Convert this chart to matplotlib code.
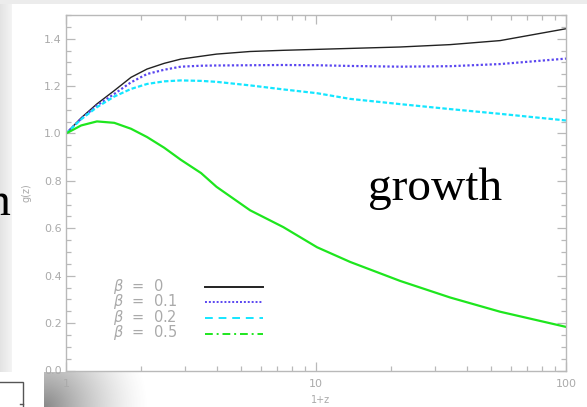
import numpy as np
import matplotlib.pyplot as plt
from matplotlib.patches import Rectangle
from matplotlib.ticker import MultipleLocator, FixedLocator, LogLocator, NullFormatter

# values (x = 1+z, log scale)
one_plus_z = [1.0, 1.15, 1.33, 1.56, 1.82, 2.11, 2.47, 2.88, 3.47, 4.0,
              5.45, 7.4, 10.1, 13.7, 21.7, 34.4, 54.5, 100.0]
g_beta0 = [1.0, 1.066, 1.125, 1.181, 1.237, 1.272, 1.296, 1.314, 1.326, 1.335,
           1.346, 1.351, 1.355, 1.359, 1.365, 1.375, 1.392, 1.442]
g_beta01 = [1.0, 1.062, 1.118, 1.167, 1.216, 1.251, 1.269, 1.282, 1.286, 1.287,
            1.288, 1.289, 1.288, 1.285, 1.282, 1.284, 1.293, 1.316]
g_beta02 = [1.0, 1.06, 1.111, 1.156, 1.188, 1.209, 1.22, 1.224, 1.222, 1.218,
            1.203, 1.186, 1.17, 1.146, 1.124, 1.103, 1.083, 1.055]
g_beta05 = [1.0, 1.034, 1.051, 1.045, 1.02, 0.985, 0.94, 0.889, 0.833, 0.775,
            0.676, 0.605, 0.52, 0.458, 0.378, 0.308, 0.248, 0.184]
beta_labels = ['0', '0.1', '0.2', '0.5']

x_ticks = [1, 10, 100]
x_ticklabels = ['1', '10', '100']

W, H = 587, 407
axcol = '#b9b9b9'
txtcol = '#aaaaaa'

fig = plt.figure(figsize=(W / 100, H / 100), dpi=100)
fig.patch.set_facecolor('white')

# slide background bits (pixel coords)
bg = fig.add_axes([0, 0, 1, 1], zorder=0)
bg.set_xlim(0, W)
bg.set_ylim(H, 0)
bg.axis('off')
bg.add_patch(Rectangle((0, 0), W, 4, color='#ececec', lw=0))
strip = np.linspace(0.89, 0.95, 12)[None, :].repeat(2, axis=0)
bg.imshow(strip, cmap='gray', vmin=0, vmax=1, extent=(0, 12, 372, 0), aspect='auto')
yy, xx = np.mgrid[372:407, 44:200]
d = np.hypot(xx - 44, yy - 407)
alpha = np.clip(1 - d / 105, 0, 1) ** 1.4 * 0.7
shade = np.zeros(xx.shape + (4,))
shade[..., :3] = 0.33
shade[..., 3] = alpha
bg.imshow(shade, extent=(44, 200, 407, 372), aspect='auto', interpolation='bilinear')
bg.add_patch(Rectangle((-5, 382), 28, 30, fill=False, ec='#555555', lw=1))
bg.plot([20, 23], [404, 404], color='#555555', lw=1)
bg.text(10, 215, 'h', ha='right', va='baseline', fontsize=34,
        family='Liberation Serif', color='black')

ax = fig.add_axes([66 / W, (H - 370.5) / H, 500 / W, 355.5 / H], zorder=1)
ax.set_facecolor('white')

colors = ['#222222', '#5a46f0', '#14e6ff', '#1ee61e']
ax.plot(one_plus_z, g_beta0, color=colors[0], lw=1.0)
ax.plot(one_plus_z, g_beta01, color=colors[1], lw=1.6, ls=(0, (1, 1)))
ax.plot(one_plus_z, g_beta02, color=colors[2], lw=1.6, ls=(0, (2, 1)))
ax.plot(one_plus_z, g_beta05, color=colors[3], lw=1.6)

ax.set_xscale('log')
ax.set_xlim(1, 100)
ax.set_ylim(0, 1.5)
ax.xaxis.set_major_locator(FixedLocator(x_ticks))
ax.set_xticklabels(x_ticklabels)
ax.xaxis.set_minor_locator(LogLocator(base=10, subs=np.arange(2, 10)))
ax.xaxis.set_minor_formatter(NullFormatter())
ax.yaxis.set_major_locator(MultipleLocator(0.2))
ax.yaxis.set_minor_locator(MultipleLocator(0.05))
ax.yaxis.set_major_formatter(lambda v, p: '%.1f' % v)

for s in ax.spines.values():
    s.set_color(axcol)
    s.set_linewidth(1.0)
ax.tick_params(which='both', direction='in', top=True, right=True,
               color=axcol, labelcolor=txtcol, labelsize=8, width=0.9)
ax.tick_params(which='major', length=6.5)
ax.tick_params(which='minor', length=3.5)
ax.tick_params(axis='x', pad=6)
ax.tick_params(axis='y', pad=3)

ax.set_xlabel('1+z', fontsize=7, color=txtcol)
ax.xaxis.set_label_coords(0.51, -0.068)
ax.set_ylabel('g(z)', fontsize=7, color=txtcol)
ax.yaxis.set_label_coords(-0.068, 0.5)

# IDL style legend: labels on the left, line samples on the right
leg_styles = ['-', (0, (1, 1)), (0, (4, 3)), (0, (4, 2, 1, 2))]
leg_rows = [0.237, 0.194, 0.150, 0.106]
for lab, c, ls, yr in zip(beta_labels, colors, leg_styles, leg_rows):
    ax.text(0.094, yr, r'$\beta$  =  ' + lab, transform=ax.transAxes,
            fontsize=10.5, color=txtcol, va='center', ha='left')
    ax.plot([0.278, 0.394], [yr - 0.002, yr - 0.002], transform=ax.transAxes,
            color=c, lw=1.4, ls=ls)

fig.text(368 / W, 1 - 200 / H, 'growth', fontsize=34, family='Liberation Serif',
         color='black', va='baseline', zorder=5)

fig.savefig('out.png', dpi=100)
